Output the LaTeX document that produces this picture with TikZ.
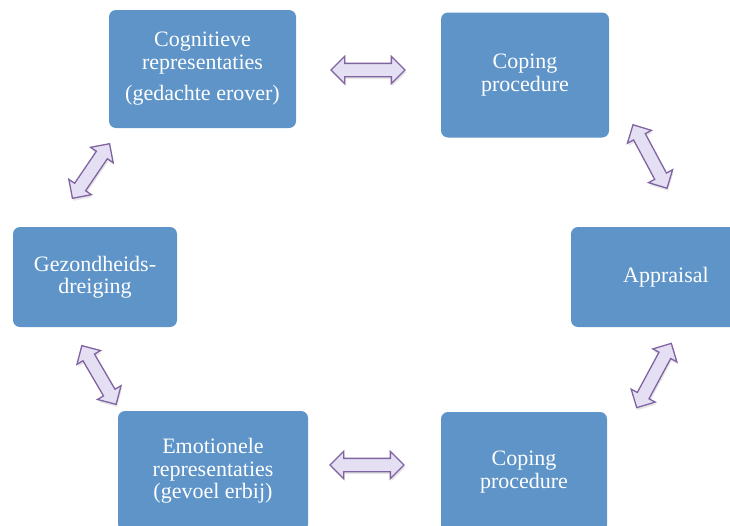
\documentclass[tikz,border=0pt]{standalone}
\usepackage{amsmath}
\usepackage{fontspec}
\setmainfont{Liberation Serif}
\usetikzlibrary{shapes.arrows,shadows}

\definecolor{blokblauw}{RGB}{94,148,200}
\definecolor{pijlrand}{RGB}{128,100,162}
\definecolor{pijlvul}{RGB}{229,223,243}

\begin{document}
\begin{tikzpicture}[x=1pt,y=-1pt,
	blok/.style={rectangle,rounded corners=7pt,fill=blokblauw,text=white,align=center,
		inner sep=0pt,font=\fontsize{22}{22.5}\selectfont},
	pijl/.style={double arrow,draw=pijlrand,fill=pijlvul,line width=1.3pt,
		double arrow head extend=7pt,double arrow tip angle=90,
		inner xsep=0pt,inner ysep=6pt,
		drop shadow={opacity=0.2,shadow xshift=1pt,shadow yshift=-2.5pt}}]
	% kader van het plaatje
	\useasboundingbox (0,0) rectangle (730,525);
	\clip (0,0) rectangle (730,525);

	% de zes blokken
	\node[blok,minimum width=187pt,minimum height=118pt] (cog) at (202.5,69)
		{Cognitieve\\ representaties\\[9pt] (gedachte erover)};
	\node[blok,minimum width=168pt,minimum height=125pt] (copboven) at (525,75)
		{Coping\\ procedure};
	\node[blok,minimum width=190pt,minimum height=100pt] (appr) at (666,277)
		{Appraisal};
	\node[blok,minimum width=164pt,minimum height=100pt] (gez) at (95,277)
		{Gezondheids-\\ dreiging};
	\node[blok,minimum width=190pt,minimum height=120pt] (emo) at (213,471)
		{Emotionele\\ representaties\\ (gevoel erbij)};
	\node[blok,minimum width=166pt,minimum height=120pt] (coponder) at (524,472)
		{Coping\\ procedure};

	% dubbele pijlen tussen de blokken
	\node[pijl,minimum height=74pt] (p1) at (368,70) {};
	\node[pijl,minimum height=72pt,rotate=-61.8] (p2) at (650,156.5) {};
	\node[pijl,minimum height=73pt,rotate=61.7] (p3) at (654,375.5) {};
	\node[pijl,minimum height=74pt] (p4) at (367,465) {};
	\node[pijl,minimum height=68pt,rotate=-59.7] (p5) at (99,375) {};
	\node[pijl,minimum height=66pt,rotate=55.8] (p6) at (91,171) {};
\end{tikzpicture}
\end{document}
